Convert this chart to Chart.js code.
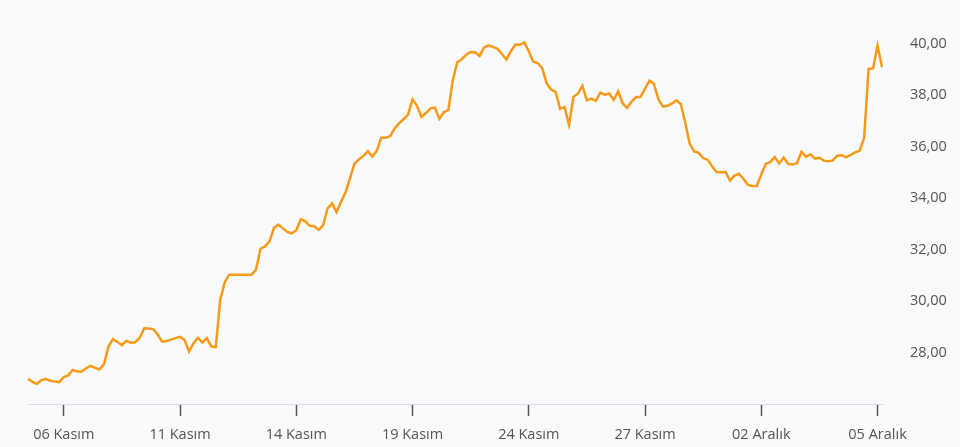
<!DOCTYPE html>
<html>
<head>
<meta charset="utf-8">
<script src="https://cdn.jsdelivr.net/npm/chart.js@4.4.0/dist/chart.umd.min.js"></script>
<style>
  html, body { margin: 0; padding: 0; background: #f9fafb; }
  #wrap { width: 960px; height: 447px; }
</style>
</head>
<body>
<div id="wrap"><canvas id="mycanvas"></canvas></div>
<script>
// price series, one value per point
var values = [
  26.98, 26.86, 26.78, 26.93, 26.97, 26.90, 26.87, 26.85, 27.05, 27.11,
  27.32, 27.26, 27.26, 27.39, 27.48, 27.40, 27.34, 27.55, 28.23, 28.52,
  28.41, 28.29, 28.45, 28.38, 28.40, 28.58, 28.94, 28.93, 28.91, 28.70,
  28.42, 28.45, 28.50, 28.56, 28.61, 28.49, 28.04, 28.35, 28.57, 28.39,
  28.56, 28.23, 28.21, 30.06, 30.72, 31.02, 31.02, 31.02, 31.02, 31.02,
  31.02, 31.22, 32.03, 32.12, 32.31, 32.83, 32.97, 32.82, 32.68, 32.63,
  32.75, 33.17, 33.10, 32.92, 32.90, 32.76, 32.94, 33.60, 33.79, 33.45,
  33.84, 34.21, 34.76, 35.33, 35.50, 35.63, 35.82, 35.61, 35.83, 36.34,
  36.34, 36.40, 36.70, 36.90, 37.06, 37.24, 37.83, 37.58, 37.15, 37.30,
  37.48, 37.51, 37.07, 37.33, 37.41, 38.56, 39.27, 39.39, 39.56, 39.67,
  39.66, 39.51, 39.85, 39.93, 39.87, 39.79, 39.59, 39.38, 39.70, 39.96,
  39.95, 40.04, 39.70, 39.29, 39.24, 39.04, 38.45, 38.21, 38.12, 37.46,
  37.53, 36.84, 37.93, 38.05, 38.35, 37.79, 37.86, 37.77, 38.09, 38.01,
  38.06, 37.81, 38.14, 37.67, 37.50, 37.74, 37.91, 37.93, 38.25, 38.56,
  38.43, 37.83, 37.55, 37.58, 37.66, 37.79, 37.65, 36.92, 36.10, 35.81,
  35.75, 35.55, 35.48, 35.23, 35.01, 35.00, 35.01, 34.68, 34.87, 34.94,
  34.75, 34.51, 34.47, 34.47, 34.91, 35.33, 35.39, 35.59, 35.34, 35.57,
  35.33, 35.30, 35.35, 35.79, 35.60, 35.70, 35.53, 35.56, 35.45, 35.43,
  35.46, 35.64, 35.66, 35.58, 35.67, 35.77, 35.83, 36.33, 39.01, 39.03,
  39.92, 39.09
];

var tickLabels = ['06 Kasım', '11 Kasım', '14 Kasım', '19 Kasım', '24 Kasım', '27 Kasım', '02 Aralık', '05 Aralık'];
var tickIdx = [8, 34, 60, 86, 112, 138, 164, 190];
var yTicks = [28, 30, 32, 34, 36, 38, 40];

var labels = [];
for (var i in values) {
  labels.push('');
}
for (var j in tickIdx) {
  labels[tickIdx[j]] = tickLabels[j];
}

var ctx = document.getElementById('mycanvas');

new Chart(ctx, {
  type: 'line',
  data: {
    labels: labels,
    datasets: [{
      data: values,
      borderColor: '#f89a17',
      borderWidth: 2.5,
      pointRadius: 0,
      tension: 0,
      fill: false
    }]
  },
  options: {
    responsive: true,
    maintainAspectRatio: false,
    animation: false,
    layout: { padding: { left: 28, top: 10, right: 0, bottom: 0 } },
    plugins: { legend: { display: false }, tooltip: { enabled: false } },
    scales: {
      x: {
        offset: false,
        afterBuildTicks: function(scale) {
          scale.ticks = tickIdx.map(function(v) { return { value: v }; });
        },
        afterFit: function(scale) { scale.height = 43; },
        grid: {
          display: true,
          drawOnChartArea: false,
          tickLength: 12,
          tickColor: '#555',
          tickWidth: 1.5
        },
        border: { display: true, color: '#dcdee2', width: 1 },
        ticks: {
          autoSkip: false,
          maxRotation: 0,
          padding: 10,
          color: '#555',
          font: { family: 'Open Sans', size: 14.5 }
        }
      },
      y: {
        position: 'right',
        min: 26,
        max: 41.3,
        afterBuildTicks: function(scale) {
          scale.ticks = yTicks.map(function(v) { return { value: v }; });
        },
        afterFit: function(scale) {
          scale.width = 78;
          scale.paddingTop = 0;
          scale.paddingBottom = 0;
        },
        grid: { display: false },
        border: { display: false },
        ticks: {
          padding: 20,
          color: '#555',
          font: { family: 'Open Sans', size: 14.5 },
          callback: function(v) { return v.toFixed(2).replace('.', ','); }
        }
      }
    }
  }
});
</script>
</body>
</html>
